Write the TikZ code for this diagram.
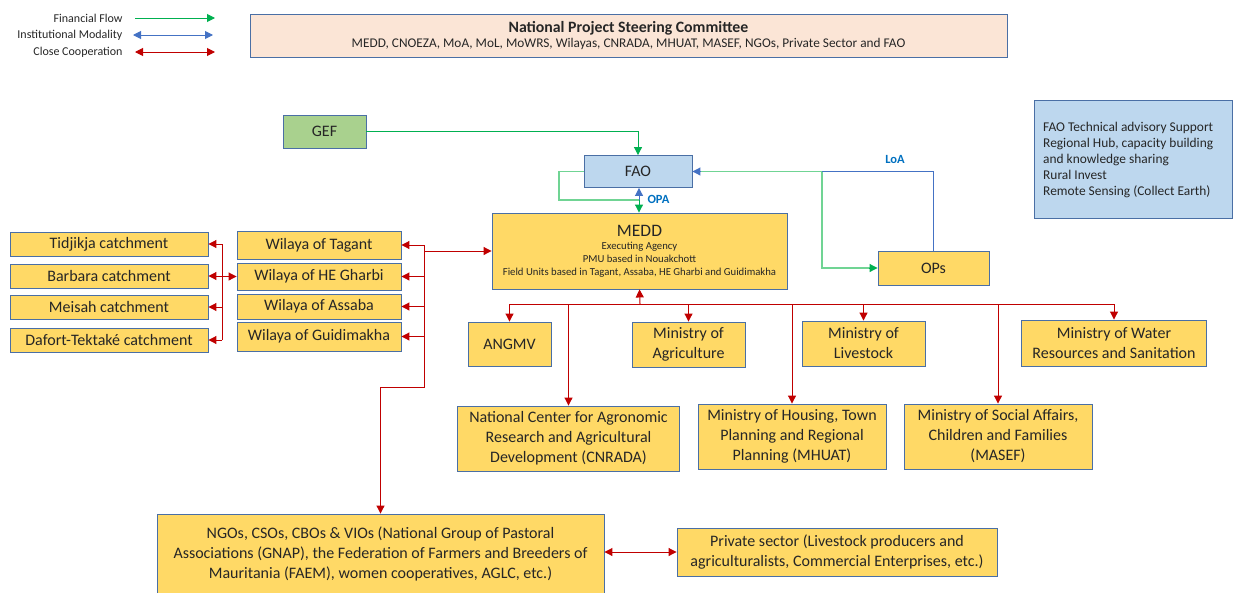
\documentclass[tikz,border=0pt]{standalone}
\usepackage{fontspec}
\setmainfont{Carlito}
\usetikzlibrary{arrows.meta}
\definecolor{bordc}{HTML}{4A6FA5}
\definecolor{ylw}{HTML}{FFD966}
\definecolor{lblue}{HTML}{BDD7EE}
\definecolor{lgreen}{HTML}{A9D18E}
\definecolor{peach}{HTML}{FBE5D6}
\definecolor{redc}{HTML}{C00000}
\definecolor{greenc}{HTML}{00B050}
\definecolor{lgreenc}{HTML}{70D494}
\definecolor{bluec}{HTML}{4472C4}
\definecolor{lblc}{HTML}{0070C0}
\tikzset{
  box/.style={draw=bordc, line width=0.9pt, fill=ylw, align=center, inner sep=1pt, font=\fontsize{16}{20}\selectfont, text=black!85},
  bluebox/.style={box, fill=lblue},
  tip/.style={-{Triangle[length=8pt,width=8pt]}},
  tips/.style={{Triangle[length=8pt,width=8pt]}-{Triangle[length=8pt,width=8pt]}},
  cc/.style={draw=redc, line width=1pt},
  ff/.style={draw=greenc, line width=1pt},
  ffl/.style={draw=lgreenc, line width=1.2pt},
  im/.style={draw=bluec, line width=1pt},
  legtext/.style={anchor=east, font=\fontsize{12}{14}\selectfont, text=black!85},
  lbl/.style={font=\bfseries\fontsize{12.5}{14}\selectfont, text=lblc}
}
\begin{document}
\begin{tikzpicture}[x=1pt,y=-1pt]
\useasboundingbox (0,0) rectangle (1233,592);
% legend
\node[legtext] (lf) at (126,18) {Financial Flow};
\node[legtext] (li) at (126,35) {Institutional Modality};
\node[legtext] (lc) at (126,52) {Close Cooperation};
\coordinate (lf1) at (135,18); \coordinate (lf2) at (215,18);
\coordinate (li1) at (133,35); \coordinate (li2) at (213,35);
\coordinate (lc1) at (135,52); \coordinate (lc2) at (215,52);
\draw[ff,tip] (lf1) -- (lf2);
\draw[im,tips] (li1) -- (li2);
\draw[cc,tips] (lc1) -- (lc2);
% steering committee
\node[box, fill=peach, minimum width=757pt, minimum height=43pt, font=\fontsize{13.3}{16}\selectfont] (npsc) at (628.5,35.5)
  {{\bfseries\fontsize{15.8}{18}\selectfont National Project Steering Committee}\\[-1pt]
   MEDD, CNOEZA, MoA, MoL, MoWRS, Wilayas, CNRADA, MHUAT, MASEF, NGOs, Private Sector and FAO};
% top nodes
\node[box, fill=lgreen, minimum width=83pt, minimum height=33pt] (gef) at (324.5,131.5) {GEF};
\node[bluebox, minimum width=108pt, minimum height=32pt] (fao) at (638,171.5) {FAO};
\node[box, minimum width=295pt, minimum height=76pt, font=\fontsize{10.7}{12.6}\selectfont] (medd) at (639.5,251)
  {{\fontsize{17.5}{20}\selectfont MEDD}\\[1pt]
   Executing Agency\\
   PMU based in Nouakchott\\
   Field Units based in Tagant, Assaba, HE Gharbi and Guidimakha};
\node[box, minimum width=111pt, minimum height=34pt] (ops) at (933.5,268) {OPs};
\node[bluebox, minimum width=198pt, minimum height=118pt] (fta) at (1133,159) {};
\node[anchor=west, align=left, inner sep=0pt, font=\fontsize{13.4}{16}\selectfont, text=black!85] (ftatext) at (1043,160)
  {FAO Technical advisory Support\\Regional Hub, capacity building\\and knowledge sharing\\Rural Invest\\Remote Sensing (Collect Earth)};
% catchments
\node[box, minimum width=198pt, minimum height=24pt] (tid) at (109,244) {Tidjikja catchment};
\node[box, minimum width=198pt, minimum height=24pt] (bar) at (109,276) {Barbara catchment};
\node[box, minimum width=198pt, minimum height=24pt] (mei) at (109,307) {Meisah catchment};
\node[box, minimum width=198pt, minimum height=24pt] (daf) at (109,340) {Dafort-Tektaké catchment};
% wilayas
\node[box, minimum width=164pt, minimum height=28pt] (tag) at (319,245) {Wilaya of Tagant};
\node[box, minimum width=164pt, minimum height=27pt] (heg) at (319,276.5) {Wilaya of HE Gharbi};
\node[box, minimum width=164pt, minimum height=25pt] (ass) at (319,306.5) {Wilaya of Assaba};
\node[box, minimum width=164pt, minimum height=29pt] (gui) at (319,336.5) {Wilaya of Guidimakha};
% ministries
\node[box, minimum width=83pt, minimum height=44pt] (ang) at (509.5,344) {ANGMV};
\node[box, minimum width=113pt, minimum height=45pt] (agr) at (688.5,344.5) {Ministry of\\Agriculture};
\node[box, minimum width=123pt, minimum height=45pt] (liv) at (863.5,343.5) {Ministry of\\Livestock};
\node[box, minimum width=185pt, minimum height=46pt] (wat) at (1114,343) {Ministry of Water\\Resources and Sanitation};
\node[box, minimum width=222pt, minimum height=65pt] (cnr) at (568.5,438.5) {National Center for Agronomic\\Research and Agricultural\\Development (CNRADA)};
\node[box, minimum width=188pt, minimum height=65pt] (mhu) at (792,436.5) {Ministry of Housing, Town\\Planning and Regional\\Planning (MHUAT)};
\node[box, minimum width=188pt, minimum height=65pt] (mas) at (998,436.5) {Ministry of Social Affairs,\\Children and Families\\(MASEF)};
% bottom
\node[box, minimum width=447pt, minimum height=80pt] (ngo) at (380.5,554) {NGOs, CSOs, CBOs \& VIOs (National Group of Pastoral\\Associations (GNAP), the Federation of Farmers and Breeders of\\Mauritania (FAEM), women cooperatives, AGLC, etc.)};
\node[box, minimum width=320pt, minimum height=48pt] (pri) at (837,552) {Private sector (Livestock producers and\\agriculturalists, Commercial Enterprises, etc.)};
% green / blue flows
\draw[ff,tip] (gef.east) -| (fao.north);
\coordinate (opa) at (639,200);
\coordinate (loopl) at (559,200);
\draw[ffl] (fao.west) -| (loopl) -- (opa);
\draw[ff,tip] (opa) -- (opa |- medd.north);
\draw[im,tip] (opa) -- (opa |- fao.south);
\node[lbl, anchor=west] (opalbl) at (644,199) {OPA};
\draw[im,tip] (ops.north) |- (fao.east);
\coordinate (fe) at (822,171.5);
\draw[ffl, shorten <=9pt] (fao.east) -- (fe);
\draw[ffl] (fe) |- ([xshift=-6pt]ops.west);
\draw[ff,tip] ([xshift=-9pt]ops.west) -- (ops.west);
\node[lbl] (loalbl) at (895,159) {LoA};
% catchments bus
\coordinate (ctop) at (222,244);
\coordinate (cbot) at (222,340);
\draw[cc] (ctop) -- (cbot);
\draw[cc,tip] (ctop) -- (tid.east);
\draw[cc,tip] (ctop |- bar.east) -- (bar.east);
\draw[cc,tip] (ctop |- mei.east) -- (mei.east);
\draw[cc,tip] (cbot) -- (daf.east);
\draw[cc,tip] (ctop |- heg.west) -- (heg.west);
% wilaya bus
\coordinate (wtop) at (424,245);
\coordinate (wbot) at (424,387);
\draw[cc,tip] (wtop) -- (tag.east);
\draw[cc,tip] (wtop |- medd.west) -- (medd.west);
\draw[cc,tip] (wtop |- heg.east) -- (heg.east);
\draw[cc,tip] (wtop |- ass.east) -- (ass.east);
\draw[cc,tip] (wtop |- gui.east) -- (gui.east);
\draw[cc,tip] (wtop) -- (wbot) -| (ngo.north);
% MEDD bus
\coordinate (mb) at (640,304);
\draw[cc,tip] (mb) -- (medd.south);
\foreach \n in {ang,cnr,agr,mhu,liv,mas,wat} {\draw[cc,tip] (mb) -| (\n.north);}
% NGO - private
\draw[cc,tips] (ngo.east |- pri.west) -- (pri.west);
\end{tikzpicture}
\end{document}
